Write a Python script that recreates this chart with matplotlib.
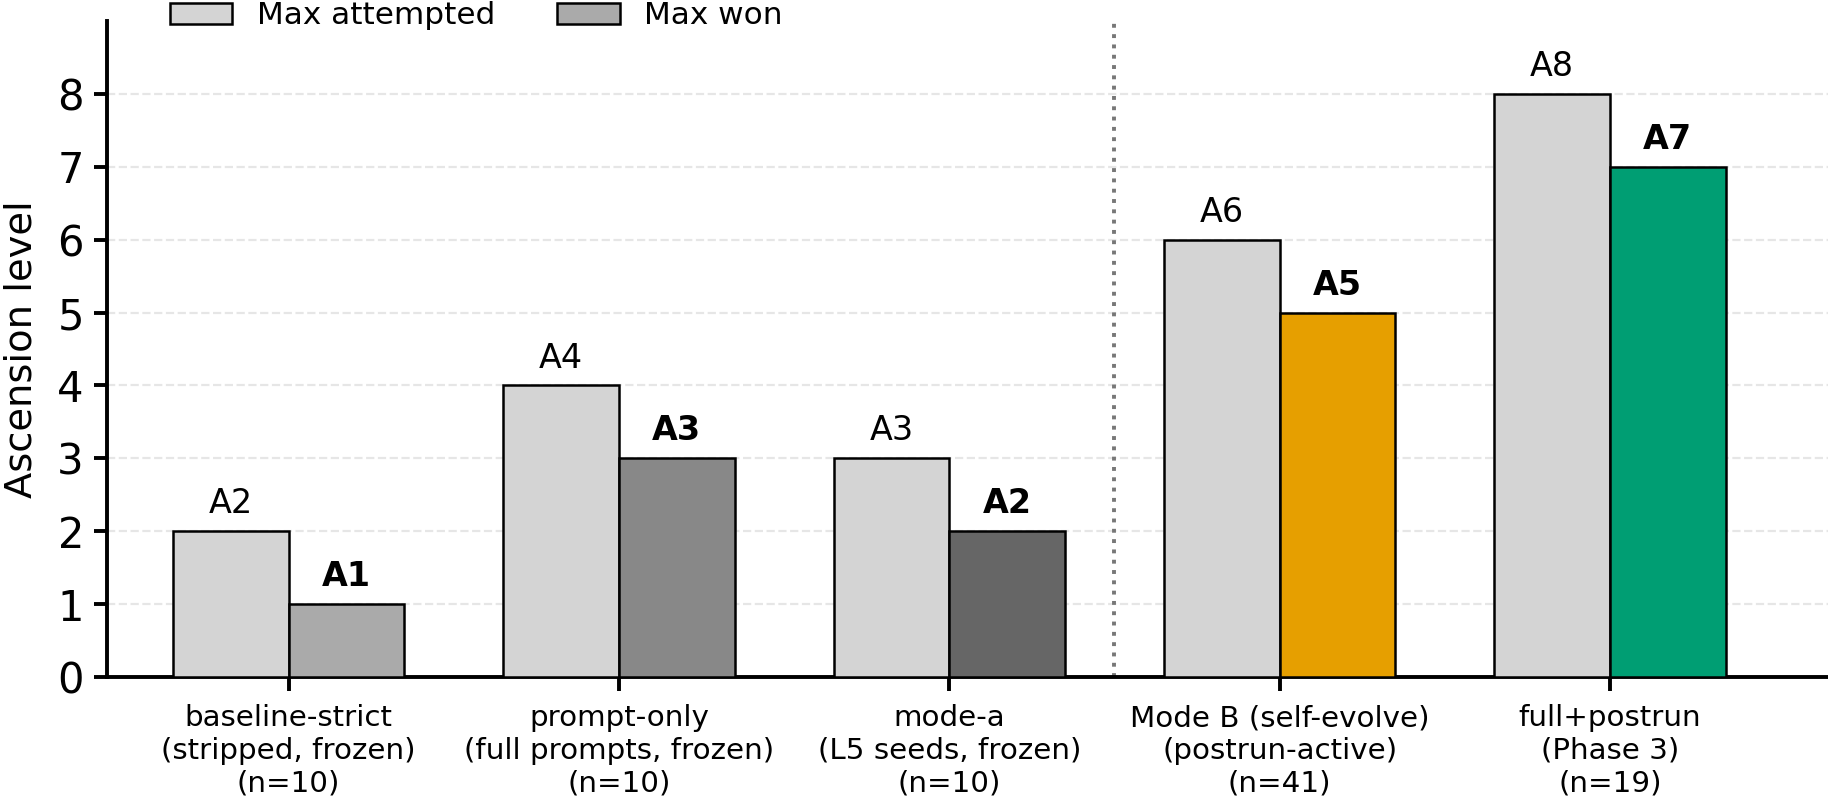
import numpy as np
import matplotlib
matplotlib.use("Agg")
import matplotlib.pyplot as plt

# data
groups = ["baseline-strict\n(stripped, frozen)\n(n=10)",
          "prompt-only\n(full prompts, frozen)\n(n=10)",
          "mode-a\n(L5 seeds, frozen)\n(n=10)",
          "Mode B (self-evolve)\n(postrun-active)\n(n=41)",
          "full+postrun\n(Phase 3)\n(n=19)"]
max_attempted = [2, 4, 3, 6, 8]
max_won = [1, 3, 2, 5, 7]
won_colors = ["#aaaaaa", "#888888", "#666666", "#E69F00", "#009E73"]
attempted_color = "#d4d4d4"

fig = plt.figure(figsize=(9.14, 3.995), dpi=200)
ax = fig.add_axes([0.0585, 0.1527, 0.9415, 0.821])

x = np.arange(len(groups))
w = 0.35

ax.yaxis.grid(True, linestyle="--", color="#e6e6e6", linewidth=0.8, zorder=0)
ax.set_axisbelow(True)

ax.bar(x - w/2, max_attempted, w, color=attempted_color, edgecolor="black",
       linewidth=0.9, zorder=3)
ax.bar(x + w/2, max_won, w, color=won_colors, edgecolor="black",
       linewidth=0.9, zorder=3)

for xi, v in zip(x, max_attempted):
    ax.text(xi - w/2, v + 0.15, f"A{v}", ha="center", va="bottom", fontsize=12)
for xi, v in zip(x, max_won):
    ax.text(xi + w/2, v + 0.15, f"A{v}", ha="center", va="bottom", fontsize=12,
            fontweight="bold")

# split between frozen and evolving modes
ax.axvline(2.5, color="#777777", linestyle=":", linewidth=1.4, zorder=2)

ax.set_xticks(x)
ax.set_xticklabels(groups, fontsize=10.6)
ax.set_ylabel("Ascension level", fontsize=13.8, labelpad=6.5)
ax.set_yticks(range(0, 9))
ax.tick_params(axis="y", labelsize=15, width=1.4, length=4.8)
ax.tick_params(axis="x", width=1.4, length=5, pad=4.8)
ax.set_ylim(0, 9)
ax.set_xlim(-0.55, 4.66)

for s in ["top", "right"]:
    ax.spines[s].set_visible(False)
for s in ["left", "bottom"]:
    ax.spines[s].set_linewidth(1.4)

h1 = plt.Rectangle((0, 0), 1, 1, facecolor=attempted_color, edgecolor="black", linewidth=0.9)
h2 = plt.Rectangle((0, 0), 1, 1, facecolor="#aaaaaa", edgecolor="black", linewidth=0.9)
fig.legend([h1, h2], ["Max attempted", "Max won"], loc="center left",
           bbox_to_anchor=(0.0775, 0.98), ncol=2, frameon=False, fontsize=11.2)

fig.savefig("out.png", dpi=200)
